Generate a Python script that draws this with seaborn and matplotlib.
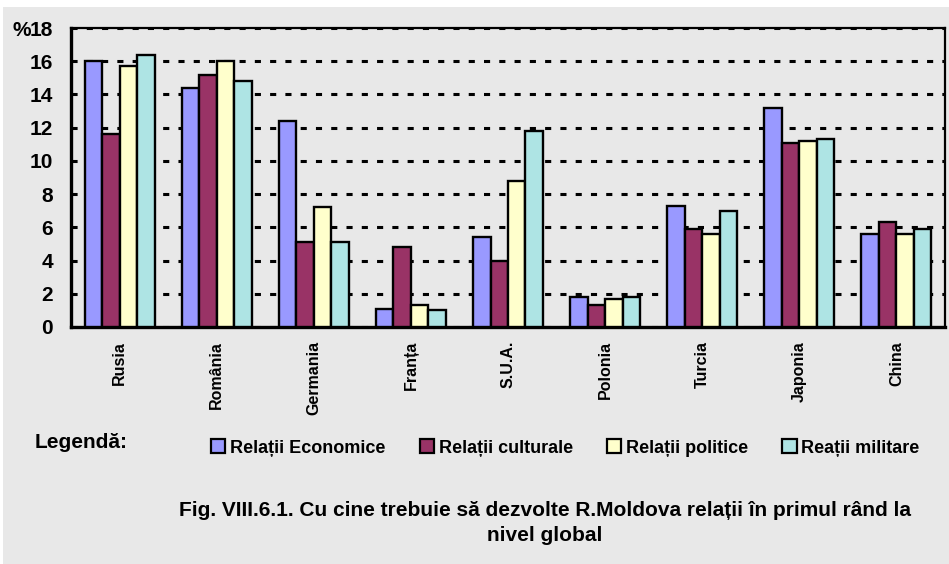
import matplotlib

matplotlib.use("Agg")

import matplotlib.pyplot as plt
import numpy as np
import pandas as pd
import seaborn as sns
from matplotlib.patches import Rectangle

countries = ["Rusia", "România", "Germania", "Franța", "S.U.A.",
             "Polonia", "Turcia", "Japonia", "China"]
series_names = ["Relații Economice", "Relații culturale",
                "Relații politice", "Reații militare"]

economice = [16.0, 14.4, 12.4, 1.1, 5.4, 1.8, 7.3, 13.2, 5.6]
culturale = [11.6, 15.2, 5.1, 4.8, 4.0, 1.3, 5.9, 11.1, 6.3]
politice = [15.7, 16.0, 7.2, 1.3, 8.8, 1.7, 5.6, 11.2, 5.6]
militare = [16.4, 14.8, 5.1, 1.0, 11.8, 1.8, 7.0, 11.3, 5.9]

y_ticks = [0, 2, 4, 6, 8, 10, 12, 14, 16, 18]

colors = ["#9999FF", "#993366", "#FFFFCC", "#AEE4E4"]
bg = "#E8E8E8"

# long-form table for seaborn
df = pd.DataFrame({
    "tara": countries * 4,
    "valoare": economice + culturale + politice + militare,
    "serie": sum([[s] * len(countries) for s in series_names], []),
})

sns.set_style("white")
plt.rcParams["font.family"] = ["Liberation Sans", "DejaVu Sans"]
plt.rcParams["font.weight"] = "bold"
plt.rcParams["text.color"] = "black"
plt.rcParams["axes.labelcolor"] = "black"
plt.rcParams["xtick.color"] = "black"
plt.rcParams["ytick.color"] = "black"

fig = plt.figure(figsize=(9.49, 5.64), dpi=100)
fig.patch.set_facecolor("white")
# grey panel (white strip on top and left like the original)
fig.patches.append(Rectangle((3 / 949, 0), 1, 1 - 7 / 564, transform=fig.transFigure,
                             facecolor=bg, edgecolor="none", zorder=-10))

ax = fig.add_axes([71 / 949, 1 - 327 / 564, (945 - 71) / 949, (327 - 28) / 564])
ax.set_facecolor(bg)

sns.barplot(data=df, x="tara", y="valoare", hue="serie", order=countries,
            hue_order=series_names, palette=colors, saturation=1, width=0.72,
            edgecolor="black", linewidth=1.7, legend=False, ax=ax, zorder=3)

ax.set_xlim(-0.5, len(countries) - 0.5)
ax.set_ylim(0, 18)
ax.set_yticks(y_ticks)
ax.set_yticklabels([str(t) for t in y_ticks], fontsize=15, fontweight="bold")
ax.set_axisbelow(True)
ax.yaxis.grid(True, color="black", linewidth=2.2, linestyle=(0, (2.0, 3.0)))
ax.xaxis.grid(False)

ax.set_xlabel("")
ax.set_ylabel("")
# the "%" sits right before the top tick label
ax.text(-0.046, 1.0, "%", transform=ax.transAxes, fontsize=15, fontweight="bold",
        ha="right", va="center_baseline")

ax.set_xticks(range(len(countries)))
ax.set_xticklabels(countries, rotation=90, fontsize=11.5, fontweight="bold", va="top")
ax.set_xticks(np.arange(-0.5, len(countries)), minor=True)
ax.tick_params(axis="x", which="major", length=0, pad=10)
ax.tick_params(axis="x", which="minor", direction="inout", length=8, width=1.6,
               color="black")
ax.tick_params(axis="y", direction="out", length=6, width=2.2, pad=7, color="black")

for side in ["left", "bottom"]:
    ax.spines[side].set_linewidth(2.4)
    ax.spines[side].set_color("black")
for side in ["top", "right"]:
    ax.spines[side].set_linewidth(1.6)
    ax.spines[side].set_color("black")

fig.text(35 / 949, 1 - 443 / 564, "Legendă:", fontsize=15, fontweight="bold",
         ha="left", va="center")

handles = [Rectangle((0, 0), 1, 1, facecolor=c, edgecolor="black", linewidth=1.6)
           for c in colors]
fig.legend(handles, series_names, loc="center left",
           bbox_to_anchor=(211 / 949, 1 - 448 / 564), ncol=4, frameon=False,
           prop={"size": 13, "weight": "bold"}, handlelength=0.8, handleheight=0.8,
           handletextpad=0.25, columnspacing=1.9, borderpad=0, borderaxespad=0)

fig.text(545 / 949, 1 - 523 / 564,
         "Fig. VIII.6.1. Cu cine trebuie să dezvolte R.Moldova relații în primul rând la\nnivel global",
         fontsize=15, fontweight="bold", ha="center", va="center",
         multialignment="center", linespacing=1.35)

fig.savefig("out.png", dpi=100, facecolor=fig.get_facecolor())
